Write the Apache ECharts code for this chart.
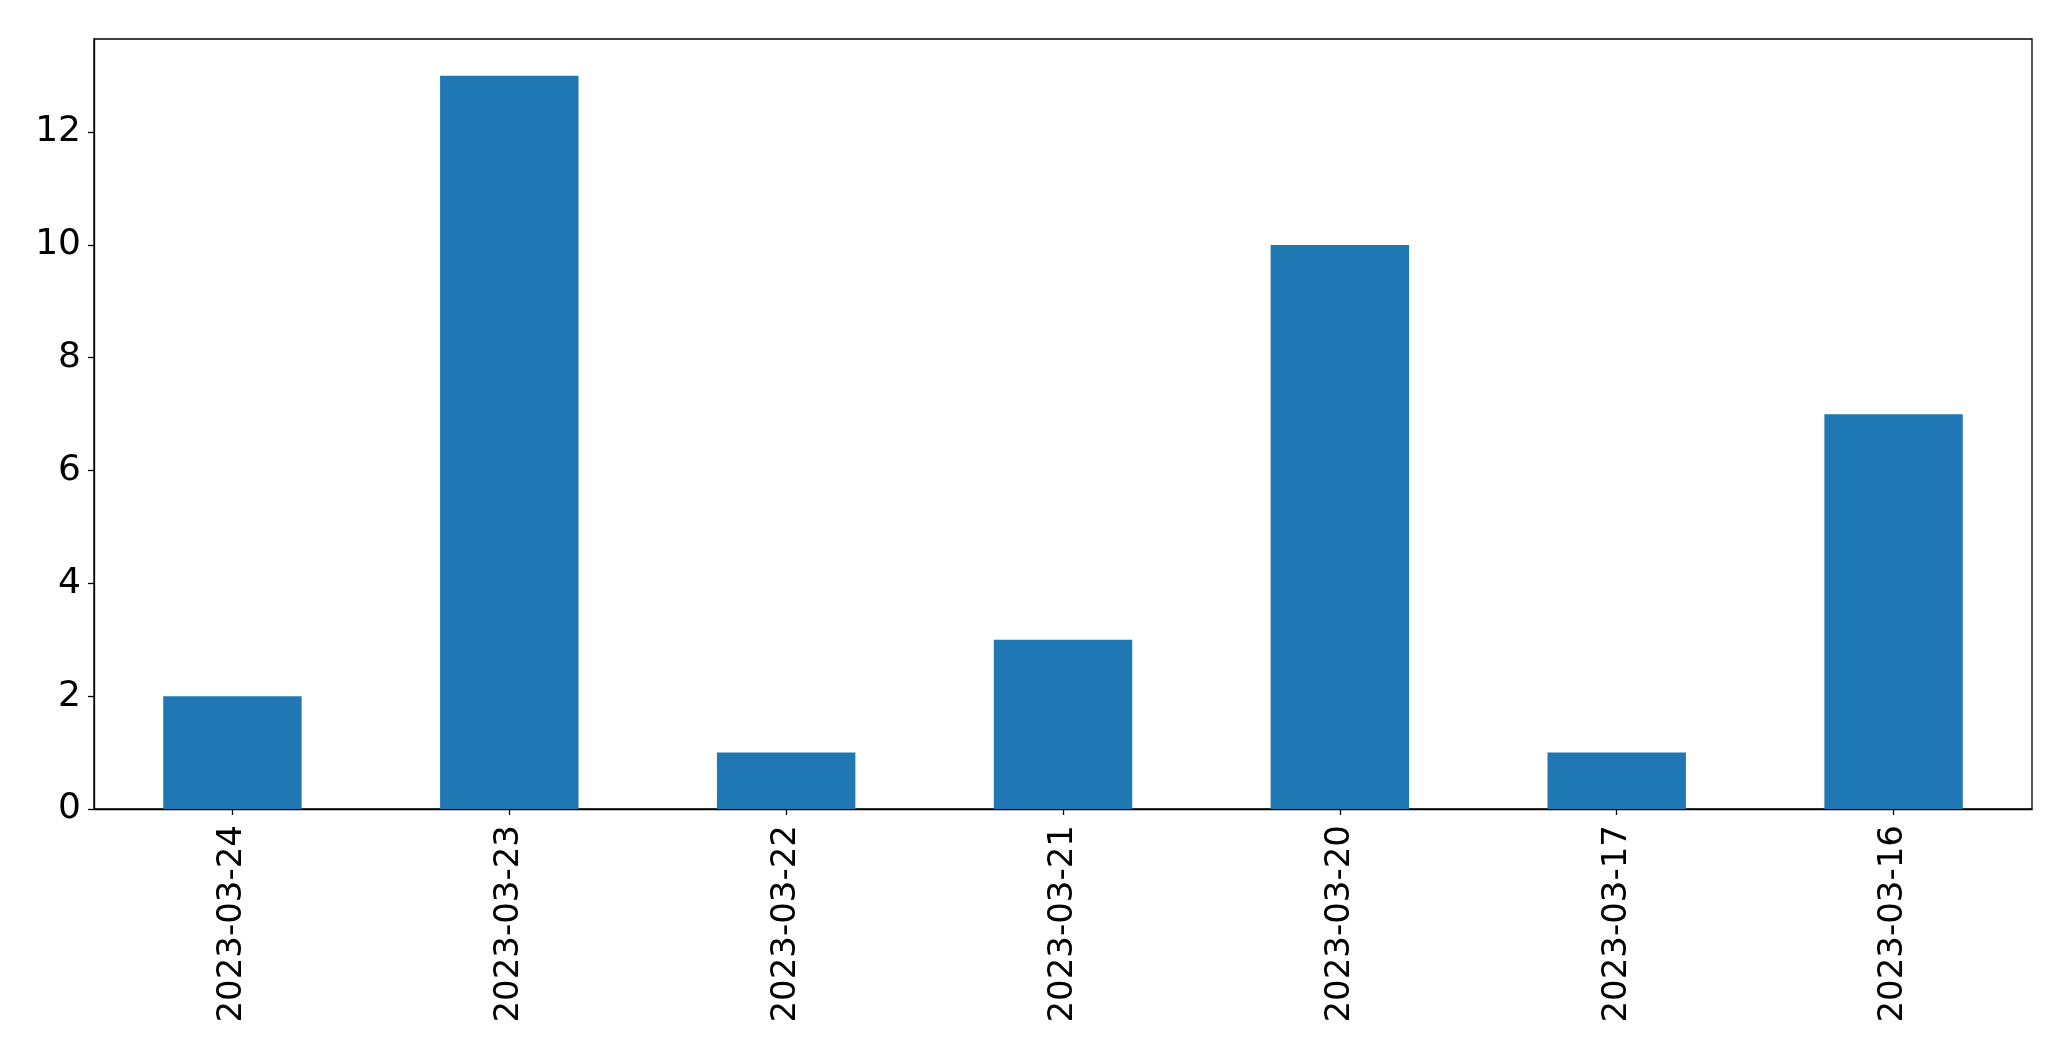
<!DOCTYPE html>
<html>
<head>
<meta charset="utf-8">
<script src="https://cdn.jsdelivr.net/npm/echarts@6/dist/echarts.min.js"></script>
<style>html,body{margin:0;padding:0;background:#fff;}#c{width:2071px;height:1061px;}</style>
</head>
<body>
<div id="c"></div>
<script>
const categories = ['2023-03-24','2023-03-23','2023-03-22','2023-03-21','2023-03-20','2023-03-17','2023-03-16'];
const values = [2, 13, 1, 3, 10, 1, 7];
const yMin = 0, yMax = 13.65, yInterval = 2;

const chart = echarts.init(document.getElementById('c'), null, {renderer: 'canvas'});
const font = 'DejaVu Sans';
chart.setOption({
  animation: false,
  backgroundColor: '#fff',
  grid: {left: 94, right: 39, top: 39, bottom: 252, show: true, borderColor: '#000', borderWidth: 1.3, backgroundColor: 'transparent'},
  xAxis: {
    type: 'category', data: categories, boundaryGap: true,
    axisLine: {show: true, lineStyle: {color: '#000', width: 1.3}},
    axisTick: {show: true, alignWithLabel: true, length: 6, lineStyle: {color: '#000', width: 1.3}},
    axisLabel: {rotate: 90, margin: 16, fontFamily: font, fontSize: 34, color: '#000', interval: 0},
    splitLine: {show: false}
  },
  yAxis: {
    type: 'value', min: yMin, max: yMax, interval: yInterval,
    axisLine: {show: true, lineStyle: {color: '#000', width: 1.3}},
    axisTick: {show: true, length: 6, lineStyle: {color: '#000', width: 1.3}},
    axisLabel: {margin: 13, fontFamily: font, fontSize: 36, color: '#000', showMaxLabel: false},
    splitLine: {show: false}
  },
  series: [{
    type: 'bar', data: values, barWidth: '50%',
    itemStyle: {color: '#1f77b4'}
  }]
});
</script>
</body>
</html>
